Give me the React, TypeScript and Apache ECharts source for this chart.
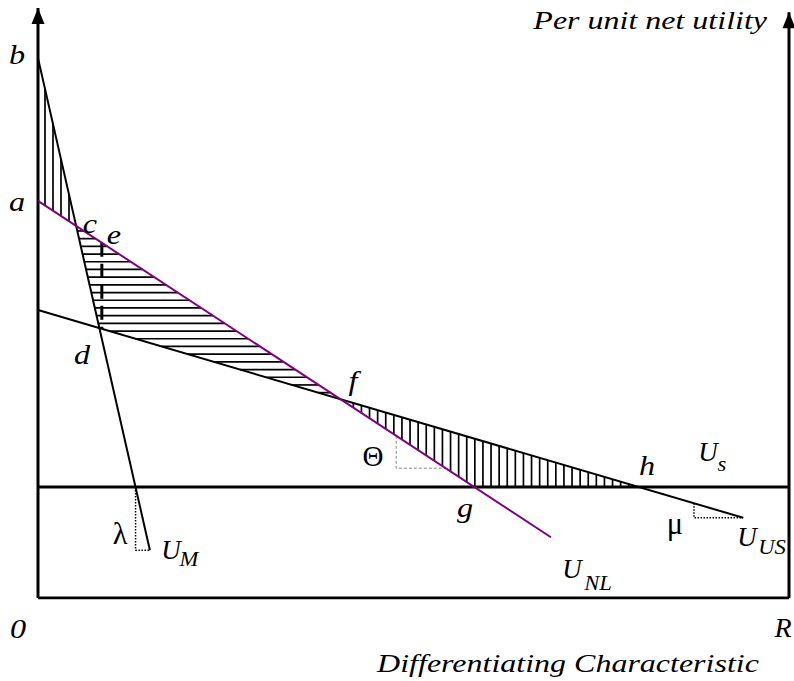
import React, { useEffect, useRef } from "react";
import * as echarts from "echarts";

// Diagram units: x = differentiating characteristic (0..100), y = per unit net utility (0..100)
const uM: number[][] = [[0, 91.5], [14.9, 8.1]];
const uNL: number[][] = [[0, 67.3], [68.3, 10.3]];
const uUS: number[][] = [[0, 48.8], [93.9, 13.6]];
const uS: number[][] = [[0, 18.8], [100, 18.8]];
const leftAxis: number[][] = [[0, 0], [0, 100]];
const rightAxis: number[][] = [[100, 0], [100, 99.3]];
const baseAxis: number[][] = [[0, 0], [100, 0]];
const dashX = 8.5;
const thetaX = 47.7;
const thetaY = 22.0;
const muX = 87.35;

type Lbl = { t: string; x: number; y: number; kind: string };
const labels: Lbl[] = [
  { t: "b", x: -2.8, y: 92.0, kind: "pt" },
  { t: "a", x: -2.8, y: 67.1, kind: "pt" },
  { t: "c", x: 6.92, y: 63.4, kind: "pt" },
  { t: "e", x: 10.12, y: 61.5, kind: "pt" },
  { t: "d", x: 5.86, y: 41.2, kind: "pt" },
  { t: "f", x: 41.94, y: 36.8, kind: "pt" },
  { t: "g", x: 56.86, y: 15.25, kind: "pt" },
  { t: "h", x: 81.09, y: 22.37, kind: "pt" },
  { t: "0", x: -2.66, y: -5.25, kind: "pt" },
  { t: "R", x: 99.2, y: -5.08, kind: "edge" },
  { t: "Θ", x: 44.6, y: 24.07, kind: "greek" },
  { t: "λ", x: 10.92, y: 11.0, kind: "greekL" },
  { t: "μ", x: 84.82, y: 12.6, kind: "greekL" },
  { t: "U", x: 89.2, y: 24.75, kind: "u" },
  { t: "s", x: 91.08, y: 22.71, kind: "sub" },
  { t: "U", x: 94.41, y: 10.34, kind: "u" },
  { t: "US", x: 97.74, y: 8.64, kind: "sub" },
  { t: "U", x: 71.1, y: 4.92, kind: "u" },
  { t: "NL", x: 74.57, y: 2.54, kind: "sub" },
  { t: "U", x: 17.71, y: 8.14, kind: "u" },
  { t: "M", x: 20.11, y: 6.61, kind: "sub" },
];
const yTitle = { t: "Per unit net utility", x: 97.07, y: 97.97 };
const xTitle = { t: "Differentiating Characteristic", x: 70.57, y: -11.0 };

function intersect(l1: number[][], l2: number[][]): number[] {
  const [[x1, y1], [x2, y2]] = l1;
  const [[x3, y3], [x4, y4]] = l2;
  const den = (x1 - x2) * (y3 - y4) - (y1 - y2) * (x3 - x4);
  const t = ((x1 - x3) * (y3 - y4) - (y1 - y3) * (x3 - x4)) / den;
  return [x1 + t * (x2 - x1), y1 + t * (y2 - y1)];
}
function vline(x: number): number[][] {
  return [[x, -10], [x, 110]];
}
function hline(y: number): number[][] {
  return [[-10, y], [110, y]];
}

const FONT = "'Liberation Serif', 'Times New Roman', serif";

function hatchLines(pts: number[][], dir: "v" | "h", step: number, offset: number) {
  const idx = dir === "v" ? 0 : 1;
  const oth = 1 - idx;
  const vals = pts.map((p) => p[idx]);
  const mn = Math.min(...vals);
  const mx = Math.max(...vals);
  const segs: any[] = [];
  for (let t = mn + offset; t < mx; t += step) {
    const hits: number[] = [];
    for (let i = 0; i < pts.length; i++) {
      const p = pts[i];
      const q = pts[(i + 1) % pts.length];
      if (p[idx] === q[idx]) continue;
      if ((p[idx] - t) * (q[idx] - t) <= 0) {
        const r = (t - p[idx]) / (q[idx] - p[idx]);
        hits.push(p[oth] + r * (q[oth] - p[oth]));
      }
    }
    if (hits.length >= 2) {
      const lo = Math.min(...hits);
      const hi = Math.max(...hits);
      const shape =
        dir === "v"
          ? { x1: t, y1: lo, x2: t, y2: hi }
          : { x1: lo, y1: t, x2: hi, y2: t };
      segs.push({ type: "line", shape, style: { stroke: "#000", lineWidth: 1.7 } });
    }
  }
  return segs;
}

export default function App() {
  const ref = useRef<HTMLDivElement>(null);
  useEffect(() => {
    if (!ref.current) return;
    const chart = echarts.init(ref.current, null, { renderer: "svg" });

    const c = intersect(uM, uNL);
    const d = intersect(uM, uUS);
    const f = intersect(uNL, uUS);
    const g = intersect(uNL, uS);
    const h = intersect(uUS, uS);
    const regions = [
      { pts: [uM[0], c, uNL[0]], dir: "v" as const, step: 8, off: 7 },
      { pts: [c, d, f], dir: "h" as const, step: 7.7, off: 5 },
      { pts: [f, g, h], dir: "v" as const, step: 8.1, off: 5 },
    ];
    const lamX = intersect(uM, uS)[0];
    const dashTop = intersect(uNL, vline(dashX));
    const dashBot = intersect(uUS, vline(dashX));
    const thetaTop = intersect(uNL, vline(thetaX));
    const thetaRight = intersect(uNL, hline(thetaY));
    const muTop = intersect(uUS, vline(muX));

    const lineSeries = (data: number[][], color: string, width: number, type: any = "solid", z = 3) => ({
      type: "line",
      data,
      symbol: "none",
      silent: true,
      z,
      lineStyle: { color, width, type },
    });

    const styleFor = (k: string) => {
      if (k === "pt") return { fontSize: 28, fontStyle: "italic", sx: 1.15 };
      if (k === "edge") return { fontSize: 28, fontStyle: "italic", sx: 1.0 };
      if (k === "greek") return { fontSize: 29, fontStyle: "normal", sx: 1.0 };
      if (k === "greekL") return { fontSize: 32, fontStyle: "normal", sx: 0.95 };
      if (k === "u") return { fontSize: 27, fontStyle: "italic", sx: 1.0 };
      return { fontSize: 21, fontStyle: "italic", sx: 1.08 };
    };

    chart.setOption({
      animation: false,
      grid: { left: 38, right: 5, top: 8, bottom: 83 },
      xAxis: { type: "value", min: 0, max: 100, show: false },
      yAxis: { type: "value", min: 0, max: 100, show: false },
      series: [
        // hatching
        {
          type: "custom",
          silent: true,
          z: 1,
          data: regions.map((_, i) => [i]),
          renderItem: (params: any, api: any) => {
            const r = regions[params.dataIndex];
            const px = r.pts.map((p) => api.coord(p));
            return { type: "group", children: hatchLines(px, r.dir, r.step, r.off) };
          },
        },
        lineSeries(baseAxis, "#000", 3),
        lineSeries(leftAxis, "#000", 3),
        lineSeries(rightAxis, "#000", 3),
        lineSeries(uS, "#000", 3),
        lineSeries(uM, "#000", 2),
        lineSeries(uUS, "#000", 2),
        lineSeries(uNL, "#800080", 2, "solid", 4),
        lineSeries([dashTop, dashBot], "#000", 3, [14, 7]),
        lineSeries([[lamX, uS[0][1]], [lamX, uM[1][1]], uM[1]], "#000", 1.5, [1.5, 1.5]),
        lineSeries([muTop, [muX, uUS[1][1]], uUS[1]], "#000", 1.5, [1.5, 1.5]),
        lineSeries([thetaTop, [thetaX, thetaY], thetaRight], "#888", 1, [3, 2]),
        // arrows
        {
          type: "custom",
          silent: true,
          z: 5,
          data: [leftAxis[1], rightAxis[1]],
          renderItem: (params: any, api: any) => {
            const p = api.coord([api.value(0), api.value(1)]);
            return {
              type: "polygon",
              shape: { points: [[p[0], p[1]], [p[0] - 6.5, p[1] + 16], [p[0] + 6.5, p[1] + 16]] },
              style: { fill: "#000" },
            };
          },
        },
        // labels
        {
          type: "custom",
          silent: true,
          z: 6,
          data: labels.map((l) => [l.x, l.y]),
          renderItem: (params: any, api: any) => {
            const l = labels[params.dataIndex];
            const p = api.coord([l.x, l.y]);
            const s = styleFor(l.kind);
            return {
              type: "text",
              x: p[0],
              y: p[1],
              scaleX: s.sx,
              style: {
                text: l.t,
                fontFamily: FONT,
                fontSize: s.fontSize,
                fontStyle: s.fontStyle,
                fill: "#000",
                align: "center",
                verticalAlign: "middle",
              },
            };
          },
        },
        {
          type: "custom",
          silent: true,
          z: 6,
          data: [[yTitle.x, yTitle.y], [xTitle.x, xTitle.y]],
          renderItem: (params: any, api: any) => {
            const l = params.dataIndex === 0 ? yTitle : xTitle;
            const p = api.coord([l.x, l.y]);
            return {
              type: "text",
              x: p[0],
              y: p[1],
              scaleX: 1.28,
              style: {
                text: l.t,
                fontFamily: FONT,
                fontSize: 25,
                fontStyle: "italic",
                fill: "#000",
                align: params.dataIndex === 0 ? "right" : "center",
                verticalAlign: "middle",
              },
            };
          },
        },
      ],
    });
    return () => chart.dispose();
  }, []);
  return (
    <div
      ref={ref}
      style={{ position: "absolute", left: 0, top: 0, width: 794, height: 681, background: "#fff" }}
    />
  );
}
